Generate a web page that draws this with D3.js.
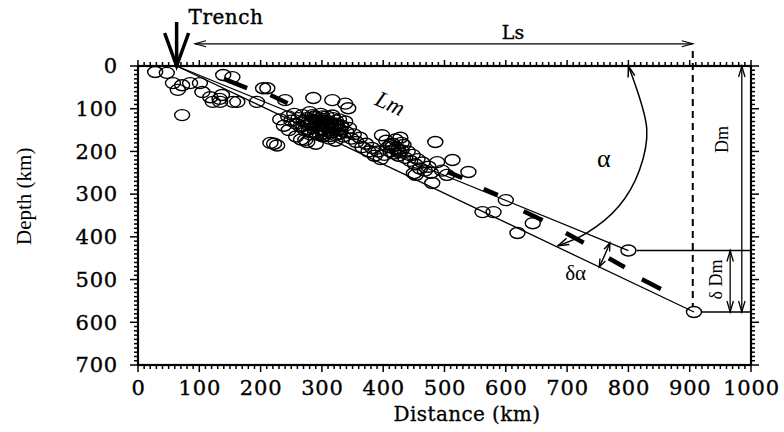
<!DOCTYPE html>
<html>
<head>
<meta charset="utf-8">
<script src="https://cdn.jsdelivr.net/npm/d3@7/dist/d3.min.js"></script>
<style>
  html, body { margin: 0; padding: 0; background: #fff; }
  svg { display: block; }
</style>
</head>
<body>
<svg id="chart" width="784" height="432"></svg>
<script>
// ---- axis settings ----
const distanceTicks = [0, 100, 200, 300, 400, 500, 600, 700, 800, 900, 1000];
const depthTicks = [0, 100, 200, 300, 400, 500, 600, 700];
const minorStep = 10;

// ---- earthquake hypocentres: distance (km) and depth (km) ----
const quakeDistance = [
  28, 47, 57, 72, 65, 85, 101, 105, 118, 122, 134, 137, 133, 139, 154, 162, 72, 155, 194, 204, 211, 240,
  286, 317, 343, 338,
  245, 250, 255, 258, 262, 265, 268, 270, 272, 275, 278, 280, 282, 284, 286, 288, 290, 292, 294, 296,
  298, 300, 302, 304, 306, 308, 310, 312, 314, 316, 318, 320, 322, 324, 326, 328, 330, 332, 335, 338,
  340, 344, 348, 352, 258, 266, 276, 290, 232, 238, 246,
  270, 274, 279, 283, 287, 291, 295, 299, 303, 307, 311, 315, 319, 323, 327, 331, 281, 289, 297, 305,
  313, 321, 329, 285, 301, 317, 293, 309, 325, 277, 299, 315,
  216, 222, 227, 273,
  356, 362, 366, 372, 376, 382, 386, 392, 396, 398, 402, 405, 408, 412, 415, 418, 420, 422, 425, 428,
  430, 433, 436, 440, 444, 448, 452, 456, 460, 464, 468, 474, 478, 485, 488, 496, 504, 513, 539, 450,
  480, 453, 416, 424, 430, 412, 426,
  600, 562, 580, 619, 644, 800, 907
];
const quakeDepth = [
  14, 16, 40, 45, 56, 40, 40, 61, 73, 84, 84, 68, 77, 21, 26, 84, 115, 84, 84, 52, 52, 80,
  75, 80, 99, 88,
  118, 128, 112, 135, 122, 142, 115, 130, 150, 122, 138, 108, 155, 128, 145, 118, 135, 160, 125, 148,
  112, 138, 165, 128, 152, 118, 140, 170, 132, 155, 122, 145, 175, 135, 160, 125, 150, 140, 165, 130,
  155, 145, 170, 160, 165, 172, 178, 182, 125, 140, 150,
  140, 128, 148, 134, 120, 142, 130, 150, 124, 144, 132, 150, 138, 128, 148, 142, 160, 156, 162, 158,
  164, 136, 158, 115, 118, 116, 140, 136, 140, 132, 134, 144,
  180, 182, 186, 173,
  178, 168, 190, 182, 200, 192, 210, 200, 218, 162, 208, 175, 190, 200, 182, 205, 172, 192, 210, 168,
  198, 185, 215, 200, 222, 208, 230, 218, 240, 226, 245, 236, 250, 178, 225, 245, 255, 220, 248, 251,
  274, 255, 188, 196, 180, 185, 202,
  314, 342, 342, 391, 368, 432, 576
];

// ---- slab geometry (km) ----
const trench = [63, 0];
const upperEnd = [800, 432];   // Lm line end
const lowerEnd = [907, 576];   // deepest event
const lsSpan = [93, 905];      // Ls arrow extent
const lsDepth = -52;
const dmDistance = 985;
const deltaDmDistance = 966;

// thick dashes tracing the slab surface: [x1, d1, x2, d2]
const slabDashes = [
  [140, 30, 178, 52],
  [216, 68, 244, 87],
  [281, 115, 319, 129],
  [505, 248, 529, 262],
  [564, 288, 587, 302],
  [629, 340, 660, 361],
  [698, 391, 727, 414],
  [768, 450, 794, 471],
  [822, 499, 853, 522]
];

// alpha arc path (km)
const alphaArcX = [800, 830, 818, 784, 731, 685];
const alphaArcD = [0, 148, 244, 329, 392, 421];

// ---- scales ----
const x = d3.scaleLinear().domain([0, 1000]).range([138, 751]);
const y = d3.scaleLinear().domain([0, 700]).range([66, 365]);

const svg = d3.select("#chart");
const serif = "'DejaVu Serif', serif";
const times = "'Liberation Serif', serif";

// ---- tick marks (outward on all four sides) ----
const xMinor = d3.range(0, 1001, minorStep);
const yMinor = d3.range(0, 701, minorStep);
const tickG = svg.append("g").attr("stroke", "#000").attr("stroke-width", 1.5);
const isMajor = v => v % 100 === 0;
tickG.append("g").selectAll("line").data(xMinor).join("line")
  .attr("x1", d => x(d)).attr("x2", d => x(d))
  .attr("y1", y(700)).attr("y2", d => y(700) + (isMajor(d) ? 7 : 4));
tickG.append("g").selectAll("line").data(xMinor).join("line")
  .attr("x1", d => x(d)).attr("x2", d => x(d))
  .attr("y1", y(0)).attr("y2", d => y(0) - (isMajor(d) ? 6 : 4));
tickG.append("g").selectAll("line").data(yMinor).join("line")
  .attr("y1", d => y(d)).attr("y2", d => y(d))
  .attr("x1", x(0)).attr("x2", d => x(0) - (isMajor(d) ? 8 : 4));
tickG.append("g").selectAll("line").data(yMinor).join("line")
  .attr("y1", d => y(d)).attr("y2", d => y(d))
  .attr("x1", x(1000)).attr("x2", d => x(1000) + (isMajor(d) ? 8 : 4));

// ---- tick labels via d3 axes ----
const bottom = svg.append("g").attr("transform", `translate(0,${y(700)})`)
  .call(d3.axisBottom(x).tickValues(distanceTicks).tickSize(0).tickPadding(15).tickFormat(d3.format("d")));
const left = svg.append("g").attr("transform", `translate(${x(0)},0)`)
  .call(d3.axisLeft(y).tickValues(depthTicks).tickSize(0).tickPadding(20).tickFormat(d3.format("d")));
svg.selectAll(".domain").remove();
[bottom, left].forEach(g => g.selectAll("text")
  .attr("font-family", serif).attr("font-size", 21).attr("letter-spacing", 0.8)
  .attr("fill", "#000").attr("stroke", "#000").attr("stroke-width", 0.35));

// frame
svg.append("rect")
  .attr("x", x(0)).attr("y", y(0))
  .attr("width", x(1000) - x(0)).attr("height", y(700) - y(0))
  .attr("fill", "none").attr("stroke", "#000").attr("stroke-width", 2.2);

// axis titles
svg.append("text")
  .attr("x", 467).attr("y", 421)
  .attr("text-anchor", "middle")
  .attr("font-family", serif).attr("font-size", 20).attr("letter-spacing", 0.4)
  .attr("stroke", "#000").attr("stroke-width", 0.3)
  .text("Distance (km)");
svg.append("text")
  .attr("transform", `translate(31,${y(305)}) rotate(-90)`)
  .attr("text-anchor", "middle")
  .attr("font-family", times).attr("font-size", 21)
  .text("Depth (km)");

// ---- helpers ----
function arrowHead(tip, angle, len = 9, half = 3.2, width = 1.2) {
  const c = Math.cos(angle), s = Math.sin(angle);
  const bx = tip[0] - len * c, by = tip[1] - len * s;
  const p = d3.path();
  p.moveTo(bx - half * s, by + half * c);
  p.lineTo(tip[0], tip[1]);
  p.lineTo(bx + half * s, by - half * c);
  svg.append("path").attr("d", p.toString())
    .attr("fill", "none").attr("stroke", "#000").attr("stroke-width", width);
}
function seg(x1, y1, x2, y2, w = 1.3, dash = null) {
  const l = svg.append("line")
    .attr("x1", x1).attr("y1", y1).attr("x2", x2).attr("y2", y2)
    .attr("stroke", "#000").attr("stroke-width", w);
  if (dash) l.attr("stroke-dasharray", dash);
  return l;
}
const P = d => [x(d[0]), y(d[1])];

// ---- slab lines ----
seg(...P(trench), ...P(upperEnd), 1.3);
seg(...P(trench), ...P(lowerEnd), 1.3);

// thick slab-surface dashes
svg.append("g").selectAll("line").data(slabDashes).join("line")
  .attr("x1", d => x(d[0])).attr("y1", d => y(d[1]))
  .attr("x2", d => x(d[2])).attr("y2", d => y(d[3]))
  .attr("stroke", "#000").attr("stroke-width", 4.5);

// ---- earthquakes ----
svg.append("g").selectAll("ellipse").data(d3.range(quakeDistance.length)).join("ellipse")
  .attr("cx", i => x(quakeDistance[i]))
  .attr("cy", i => y(quakeDepth[i]))
  .attr("rx", 7.5).attr("ry", 5.5)
  .attr("fill", "none").attr("stroke", "#000").attr("stroke-width", 1.4);

// ---- Ls span ----
seg(x(lsSpan[0]), y(lsDepth), x(lsSpan[1]), y(lsDepth), 1.2);
arrowHead([x(lsSpan[0]), y(lsDepth)], Math.PI, 11, 3);
arrowHead([x(lsSpan[1]), y(lsDepth)], 0, 11, 3);
svg.append("text")
  .attr("x", 513).attr("y", 39).attr("text-anchor", "middle")
  .attr("font-family", serif).attr("font-size", 19)
  .attr("stroke", "#000").attr("stroke-width", 0.35)
  .text("Ls");
seg(x(lsSpan[1]), y(-35), x(lsSpan[1]), y(lowerEnd[1]) - 5, 2, "7,5");

// ---- trench marker ----
seg(x(trench[0]), y(-103), x(trench[0]), y(0) - 4, 3.5);
arrowHead(P(trench), Math.PI / 2, 33, 12, 3.5);
svg.append("text")
  .attr("x", x(trench[0]) + 12).attr("y", 24)
  .attr("font-family", serif).attr("font-size", 20)
  .attr("letter-spacing", 0.5)
  .attr("stroke", "#000").attr("stroke-width", 0.4)
  .text("Trench");

// ---- Dm and delta Dm ----
seg(x(upperEnd[0]) + 8, y(upperEnd[1]), x(1000), y(upperEnd[1]), 1.4);
seg(x(lowerEnd[0]) + 8, y(lowerEnd[1]), x(1000), y(lowerEnd[1]), 1.4);
seg(x(dmDistance), y(0), x(dmDistance), y(lowerEnd[1]), 1.3);
arrowHead([x(dmDistance), y(0)], -Math.PI / 2, 11, 3.2, 1.3);
arrowHead([x(dmDistance), y(lowerEnd[1])], Math.PI / 2, 11, 3.2, 1.3);
seg(x(deltaDmDistance), y(upperEnd[1]), x(deltaDmDistance), y(lowerEnd[1]), 1.3);
arrowHead([x(deltaDmDistance), y(upperEnd[1])], -Math.PI / 2, 11, 3.2, 1.3);
arrowHead([x(deltaDmDistance), y(lowerEnd[1])], Math.PI / 2, 11, 3.2, 1.3);
svg.append("text")
  .attr("transform", `translate(728,${y(172)}) rotate(-90)`)
  .attr("text-anchor", "middle")
  .attr("font-family", times).attr("font-size", 18)
  .text("Dm");
svg.append("text")
  .attr("transform", `translate(722,${y(500)}) rotate(-90)`)
  .attr("text-anchor", "middle")
  .attr("font-family", times).attr("font-size", 18)
  .text("δ Dm");

// ---- alpha arc ----
const arcPts = alphaArcX.map((d, i) => [x(d), y(alphaArcD[i])]);
svg.append("path")
  .attr("d", d3.line().curve(d3.curveCatmullRom)(arcPts))
  .attr("fill", "none").attr("stroke", "#000").attr("stroke-width", 1.5);
const a0 = Math.atan2(arcPts[0][1] - arcPts[1][1], arcPts[0][0] - arcPts[1][0]);
arrowHead(arcPts[0], a0, 11, 3.5, 1.5);
const n = arcPts.length;
const a1 = Math.atan2(arcPts[n - 1][1] - arcPts[n - 2][1], arcPts[n - 1][0] - arcPts[n - 2][0]);
arrowHead(arcPts[n - 1], a1, 11, 3.5, 1.5);
svg.append("text")
  .attr("x", x(760)).attr("y", 167).attr("text-anchor", "middle")
  .attr("font-family", times).attr("font-size", 26)
  .text("α");

// ---- delta alpha arc, centred on the trench ----
const tc = P(trench);
const up = P(upperEnd), lo = P(lowerEnd);
const angU = Math.atan2(up[1] - tc[1], up[0] - tc[0]);
const angL = Math.atan2(lo[1] - tc[1], lo[0] - tc[0]);
const r = 468;
const dp = d3.path();
dp.arc(tc[0], tc[1], r, angU, angL, false);
svg.append("path").attr("d", dp.toString())
  .attr("fill", "none").attr("stroke", "#000").attr("stroke-width", 1.4);
arrowHead([tc[0] + r * Math.cos(angU), tc[1] + r * Math.sin(angU)], angU - Math.PI / 2, 8, 3, 1.4);
arrowHead([tc[0] + r * Math.cos(angL), tc[1] + r * Math.sin(angL)], angL + Math.PI / 2, 8, 3, 1.4);
svg.append("text")
  .attr("x", x(714)).attr("y", 280).attr("text-anchor", "middle")
  .attr("font-family", times).attr("font-size", 21)
  .text("δα");

// ---- Lm label ----
svg.append("text")
  .attr("transform", `translate(${x(406)},${y(104)}) rotate(25)`)
  .attr("text-anchor", "middle")
  .attr("font-family", times).attr("font-style", "italic").attr("font-size", 23)
  .text("Lm");
</script>
</body>
</html>
